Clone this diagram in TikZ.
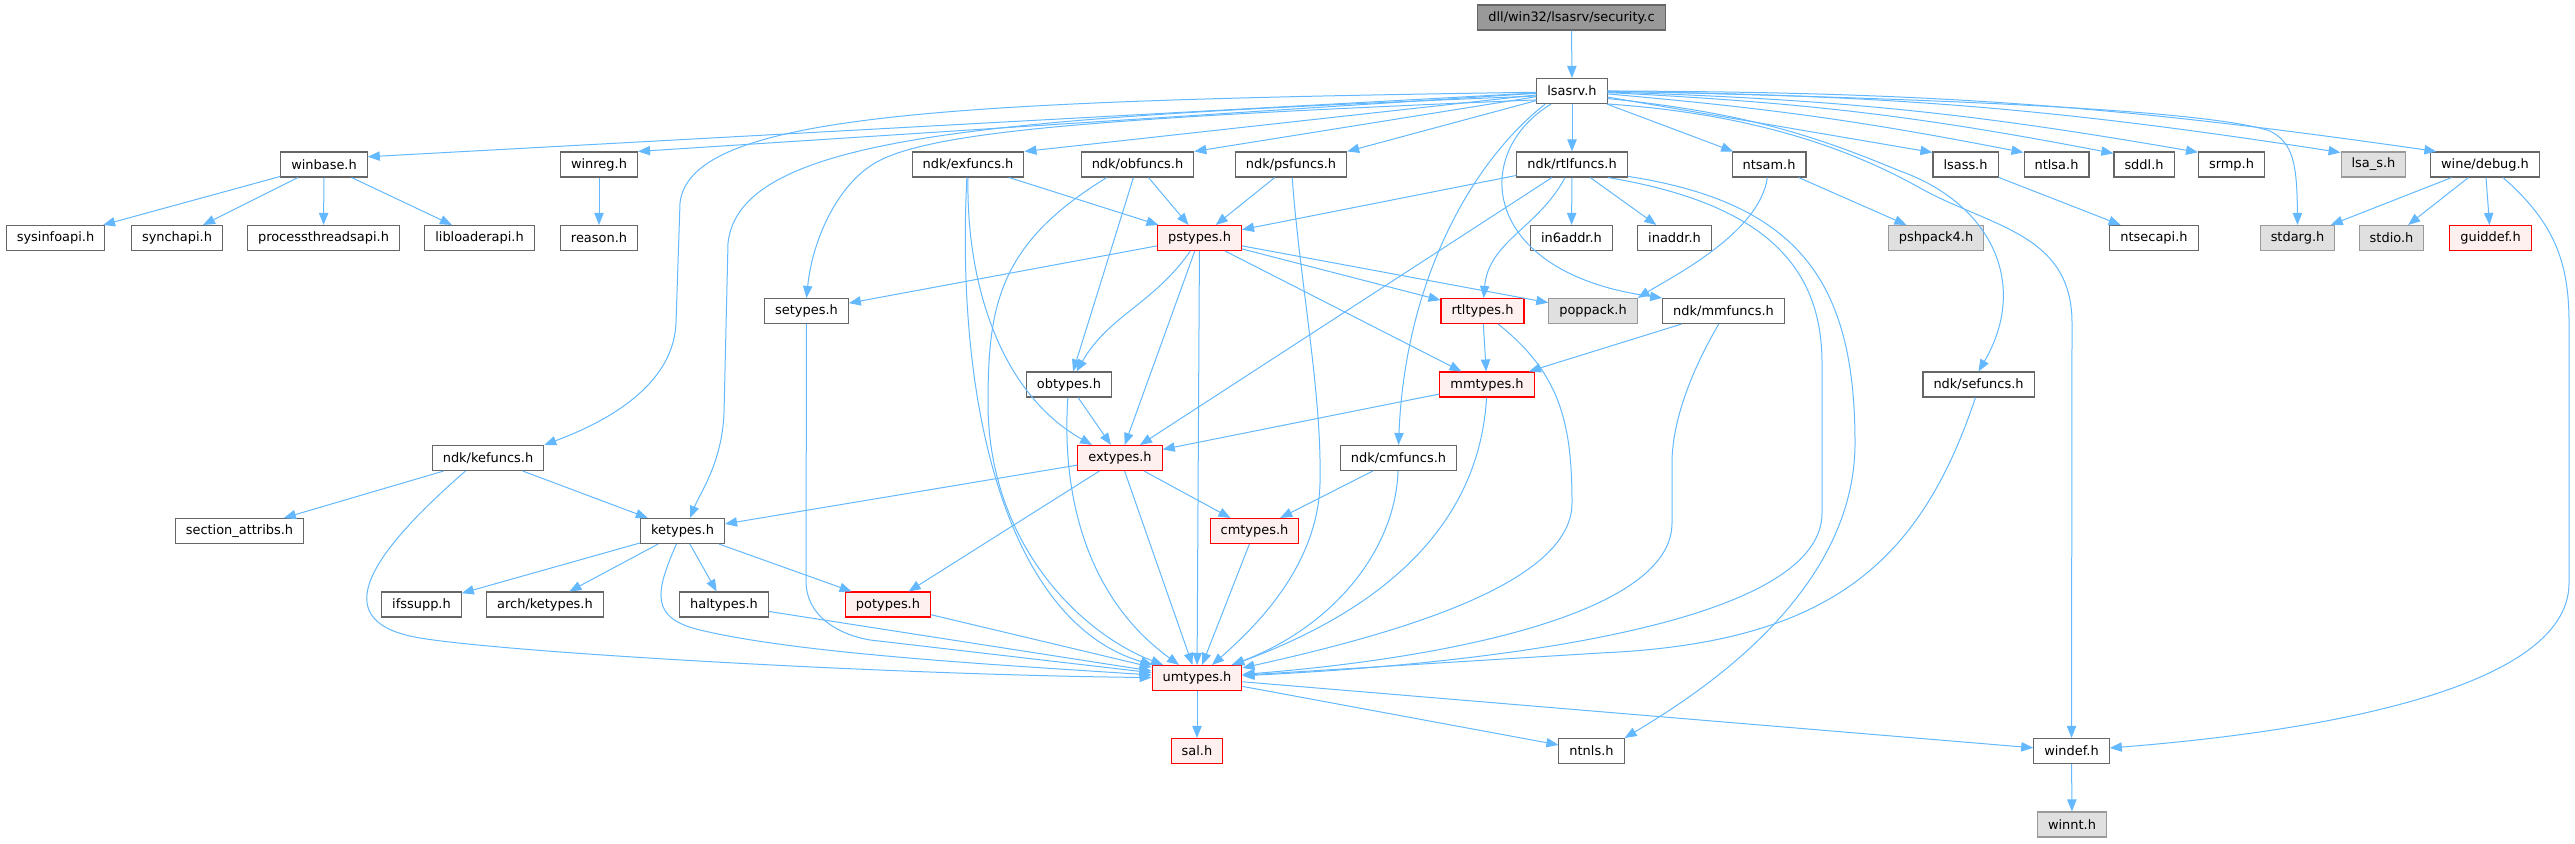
\documentclass[tikz,border=0pt]{standalone}
\usepackage{fontspec}
\setmainfont{DejaVu Sans}
\usetikzlibrary{arrows.meta}
\definecolor{edgeblue}{HTML}{63B8FF}
\definecolor{boxline}{HTML}{666666}
\definecolor{grayline}{HTML}{999999}
\definecolor{grayfill}{HTML}{E0E0E0}
\definecolor{redfill}{HTML}{FFF0F0}
\definecolor{rootfill}{HTML}{999999}
\begin{document}
\begin{tikzpicture}[x=0.75pt,y=0.75pt,
	hfile/.style={rectangle,draw=boxline,fill=white,line width=0.8pt,minimum height=18.75pt,inner xsep=7.9pt,inner ysep=0pt,font=\fontsize{9.7}{11}\selectfont},
	hred/.style={hfile,draw=red,fill=redfill},
	hgray/.style={hfile,draw=grayline,fill=grayfill},
	hroot/.style={hfile,draw=boxline,fill=rootfill},
	incl/.style={draw=edgeblue,line width=0.75pt,-{Triangle[length=9pt,width=7pt]}}]
	\useasboundingbox (0,0) rectangle (2575,843);
	
	\node (security) at (1571.5,825.5) [hroot] {dll/win32/lsasrv/security.c};
	\node (lsasrv) at (1572,752) [hfile] {lsasrv.h};
	
	\node (winbase) at (324,678.5) [hfile] {winbase.h};
	\node (winreg) at (599,678.5) [hfile] {winreg.h};
	\node (exfuncs) at (968,678.5) [hfile] {ndk/exfuncs.h};
	\node (obfuncs) at (1137.5,678.5) [hfile] {ndk/obfuncs.h};
	\node (psfuncs) at (1291,678.5) [hfile] {ndk/psfuncs.h};
	\node (rtlfuncs) at (1572,678.5) [hfile] {ndk/rtlfuncs.h};
	\node (ntsam) at (1769,678.5) [hfile] {ntsam.h};
	\node (lsass) at (1965.5,678.5) [hfile] {lsass.h};
	\node (ntlsa) at (2056.5,678.5) [hfile] {ntlsa.h};
	\node (sddl) at (2144,678.5) [hfile] {sddl.h};
	\node (srmp) at (2231.5,678.5) [hfile] {srmp.h};
	\node (lsas) at (2373.5,678.5) [hgray] {lsa\_s.h};
	\node (debug) at (2485,678.5) [hfile] {wine/debug.h};
	
	\node (sysinfoapi) at (55.5,605) [hfile] {sysinfoapi.h};
	\node (synchapi) at (177,605) [hfile] {synchapi.h};
	\node (procthread) at (323.5,605) [hfile] {processthreadsapi.h};
	\node (libloader) at (479.5,605) [hfile] {libloaderapi.h};
	\node (reason) at (599,605) [hfile] {reason.h};
	\node (pstypes) at (1199.5,605) [hred] {pstypes.h};
	\node (inaddrsix) at (1571.5,605) [hfile] {in6addr.h};
	\node (inaddr) at (1674.5,605) [hfile] {inaddr.h};
	\node (pshpack) at (1936,605) [hgray] {pshpack4.h};
	\node (ntsecapi) at (2154,605) [hfile] {ntsecapi.h};
	\node (stdarg) at (2297.5,605) [hgray] {stdarg.h};
	\node (stdio) at (2391.5,605) [hgray] {stdio.h};
	\node (guiddef) at (2490.5,605) [hred] {guiddef.h};
	
	\node (setypes) at (806.5,532) [hfile] {setypes.h};
	\node (rtltypes) at (1482.5,532) [hred] {rtltypes.h};
	\node (poppack) at (1593,532) [hgray] {poppack.h};
	\node (mmfuncs) at (1723.5,532) [hfile] {ndk/mmfuncs.h};
	
	\node (obtypes) at (1069,458.5) [hfile] {obtypes.h};
	\node (mmtypes) at (1487,458.5) [hred] {mmtypes.h};
	\node (sefuncs) at (1978.5,458.5) [hfile] {ndk/sefuncs.h};
	
	\node (kefuncs) at (488,385) [hfile] {ndk/kefuncs.h};
	\node (extypes) at (1120,385) [hred] {extypes.h};
	\node (cmfuncs) at (1398.5,385) [hfile] {ndk/cmfuncs.h};
	
	\node (secattr) at (239.5,312) [hfile] {section\_attribs.h};
	\node (ketypes) at (682.5,312) [hfile] {ketypes.h};
	\node (cmtypes) at (1254.5,312) [hred] {cmtypes.h};
	
	\node (ifssupp) at (421.5,238.5) [hfile] {ifssupp.h};
	\node (archketypes) at (545,238.5) [hfile] {arch/ketypes.h};
	\node (haltypes) at (724,238.5) [hfile] {haltypes.h};
	\node (potypes) at (888,238.5) [hred] {potypes.h};
	
	\node (umtypes) at (1197,165) [hred] {umtypes.h};
	\node (sal) at (1197,92) [hred] {sal.h};
	\node (ntnls) at (1591.5,92) [hfile] {ntnls.h};
	\node (windef) at (2071.5,92) [hfile] {windef.h};
	\node (winnt) at (2072,18.5) [hgray] {winnt.h};
	
	\draw [incl] (security) -- (lsasrv);
	
	\draw [incl] (lsasrv) -- (winbase.10);
	\draw [incl] (lsasrv) -- (winreg.north east);
	\draw [incl] (lsasrv) -- (exfuncs.north east);
	\draw [incl] (lsasrv) -- (obfuncs.north east);
	\draw [incl] (lsasrv) -- (psfuncs.north east);
	\draw [incl] (lsasrv) -- (rtlfuncs);
	\draw [incl] (lsasrv) -- (ntsam.160);
	\draw [incl] (lsasrv) -- (lsass.160);
	\draw [incl] (lsasrv) to [bend left=3] (ntlsa.160);
	\draw [incl] (lsasrv) to [bend left=4] (sddl.160);
	\draw [incl] (lsasrv) to [bend left=4] (srmp.160);
	\draw [incl] (lsasrv) to [bend left=4] (lsas.160);
	\draw [incl] (lsasrv) to [bend left=4] (debug.165);
	\draw [incl] (lsasrv.182) .. controls (950,742) and (690,730) .. (680,640) -- (676,520) .. controls (674,470) and (630,430) .. (kefuncs.north east);
	\draw [incl] (lsasrv.188) .. controls (1000,725) and (740,710) .. (728,600) -- (724,430) .. controls (722,380) and (700,350) .. (ketypes.60);
	\draw [incl] (lsasrv.194) .. controls (1100,725) and (930,712) .. (875,680) .. controls (835,656) and (812,600) .. (setypes.north);
	\draw [incl] (lsasrv.206) .. controls (1470,680) and (1405,560) .. (cmfuncs.north);
	\draw [incl] (lsasrv.212) .. controls (1470,690) and (1480,570) .. (mmfuncs.north west);
	\draw [incl] (lsasrv.east) .. controls (1900,745) and (2200,735) .. (2270,712) .. controls (2293,700) and (2297,680) .. (stdarg.north);
	\draw [incl] (lsasrv.-12) .. controls (1750,730) and (1820,705) .. (1900,672) .. controls (1990,640) and (2030,560) .. (sefuncs.north);
	\draw [incl] (lsasrv.-20) .. controls (1740,730) and (1840,700) .. (1920,655) .. controls (1990,616) and (2072,610) .. (2072,520) -- (windef.north);
	
	\draw [incl] (winbase) -- (sysinfoapi);
	\draw [incl] (winbase) -- (synchapi);
	\draw [incl] (winbase) -- (procthread);
	\draw [incl] (winbase) -- (libloader);
	\draw [incl] (winreg) -- (reason);
	
	\draw [incl] (exfuncs) -- (pstypes);
	\draw [incl] (exfuncs.south) .. controls (966,560) and (1000,450) .. (extypes.155);
	\draw [incl] (exfuncs.-95) .. controls (955,430) and (1010,220) .. (umtypes);
	\draw [incl] (obfuncs) -- (pstypes);
	\draw [incl] (obfuncs) -- (obtypes);
	\draw [incl] (obfuncs.-157) .. controls (1000,600) and (988,540) .. (988,440) .. controls (988,300) and (1080,210) .. (umtypes);
	\draw [incl] (psfuncs) -- (pstypes);
	\draw [incl] (psfuncs.-85) .. controls (1300,560) and (1322,450) .. (1320,360) .. controls (1318,280) and (1260,220) .. (umtypes);
	
	\draw [incl] (rtlfuncs) -- (pstypes);
	\draw [incl] (rtlfuncs) -- (extypes);
	\draw [incl] (rtlfuncs) to [out=-118,in=85] (rtltypes);
	\draw [incl] (rtlfuncs) -- (inaddrsix);
	\draw [incl] (rtlfuncs) -- (inaddr);
	\draw [incl] (rtlfuncs.-20) .. controls (1760,640) and (1822,580) .. (1822,480) -- (1822,330) .. controls (1822,220) and (1500,180) .. (umtypes);
	\draw [incl] (rtlfuncs.-12) .. controls (1800,640) and (1855,560) .. (1855,400) .. controls (1855,250) and (1700,150) .. (ntnls.north east);
	
	\draw [incl] (ntsam) .. controls (1760,610) and (1670,565) .. (poppack.north east);
	\draw [incl] (ntsam) -- (pshpack);
	\draw [incl] (lsass) -- (ntsecapi);
	\draw [incl] (debug) -- (stdarg);
	\draw [incl] (debug) -- (stdio);
	\draw [incl] (debug) -- (guiddef);
	\draw [incl] (debug.-36) .. controls (2555,620) and (2569,580) .. (2569,520) -- (2569,260) .. controls (2569,150) and (2300,110) .. (windef);
	
	\draw [incl] (pstypes) -- (setypes);
	\draw [incl] (pstypes) to [out=-125,in=60] (obtypes);
	\draw [incl] (pstypes) -- (extypes);
	\draw [incl] (pstypes) -- (umtypes);
	\draw [incl] (pstypes) -- (mmtypes);
	\draw [incl] (pstypes) -- (rtltypes);
	\draw [incl] (pstypes) -- (poppack);
	
	\draw [incl] (setypes) -- (806,262) to [out=-90,in=170] (870,203) -- (umtypes);
	\draw [incl] (rtltypes) -- (mmtypes);
	\draw [incl] (rtltypes.-40) .. controls (1560,470) and (1572,420) .. (1572,340) .. controls (1572,260) and (1400,210) .. (umtypes);
	\draw [incl] (mmfuncs) -- (mmtypes);
	\draw [incl] (mmfuncs.-110) .. controls (1690,470) and (1672,420) .. (1672,380) -- (1672,320) .. controls (1672,230) and (1450,185) .. (umtypes);
	
	\draw [incl] (obtypes) -- (extypes);
	\draw [incl] (obtypes.-95) .. controls (1062,360) and (1080,250) .. (umtypes);
	\draw [incl] (mmtypes) -- (extypes);
	\draw [incl] (mmtypes.-92) .. controls (1480,330) and (1400,240) .. (umtypes);
	\draw [incl] (sefuncs.-103) .. controls (1920,280) and (1830,200) .. (1600,190) -- (umtypes);
	
	\draw [incl] (kefuncs) -- (secattr);
	\draw [incl] (kefuncs) -- (ketypes);
	\draw [incl] (kefuncs.-150) .. controls (360,280) and (330,220) .. (420,205) .. controls (510,190) and (900,168) .. (umtypes);
	\draw [incl] (extypes) -- (ketypes);
	\draw [incl] (extypes) -- (cmtypes);
	\draw [incl] (extypes) -- (potypes);
	\draw [incl] (extypes) -- (umtypes);
	\draw [incl] (cmfuncs) -- (cmtypes);
	\draw [incl] (cmfuncs.-92) .. controls (1395,290) and (1330,215) .. (umtypes);
	
	\draw [incl] (ketypes) -- (ifssupp);
	\draw [incl] (ketypes) -- (archketypes);
	\draw [incl] (ketypes) -- (haltypes);
	\draw [incl] (ketypes) -- (potypes);
	\draw [incl] (ketypes.-115) .. controls (655,250) and (650,225) .. (700,213) .. controls (800,189) and (1000,178) .. (umtypes);
	\draw [incl] (cmtypes) -- (umtypes);
	\draw [incl] (haltypes) -- (umtypes);
	\draw [incl] (potypes) -- (umtypes);
	
	\draw [incl] (umtypes) -- (sal);
	\draw [incl] (umtypes) -- (ntnls);
	\draw [incl] (umtypes) -- (windef);
	\draw [incl] (windef) -- (winnt);
\end{tikzpicture}
\end{document}
